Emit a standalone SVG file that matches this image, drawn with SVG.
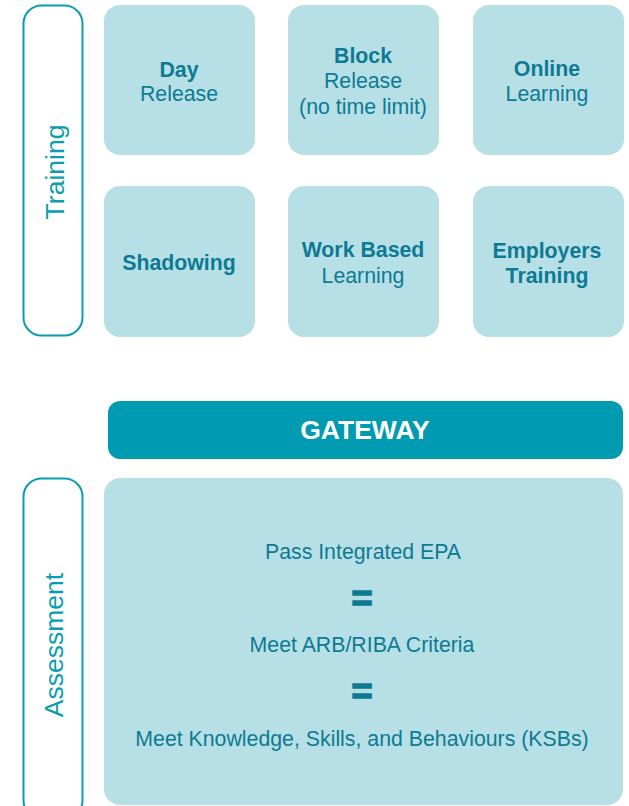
<svg xmlns="http://www.w3.org/2000/svg" width="629" height="806" viewBox="0 0 629 806">
<style>
.box{fill:#b7e0e6}
.side{fill:#ffffff;stroke:#0a9db2;stroke-width:2}
.lbl{font-family:"Liberation Sans",Arial,sans-serif;fill:#0d7a93;text-anchor:middle}
.b{font-weight:bold;font-size:21.3px}
.r{font-size:21.3px}
.sideT{font-family:"Liberation Sans",Arial,sans-serif;fill:#0a9db2;font-size:26.5px;text-anchor:middle}
.a{font-size:21.3px}
.eq{font-weight:bold;font-size:36px;stroke:#0d7a93;stroke-width:1.6px}
</style>
<rect width="629" height="806" fill="#ffffff"/>
<g id="training">
<rect class="side" x="23.5" y="5.5" width="59" height="330" rx="18"/>
<text class="sideT" transform="translate(64,172) rotate(-90)">Training</text>
</g>
<g id="day-release">
<rect class="box" x="104" y="5" width="151" height="150" rx="16"/>
<text class="lbl b" x="179" y="77">Day</text>
<text class="lbl r" x="179" y="101">Release</text>
</g>
<g id="block-release">
<rect class="box" x="288" y="5" width="151" height="150" rx="16"/>
<text class="lbl b" x="363" y="63">Block</text>
<text class="lbl r" x="363" y="88">Release</text>
<text class="lbl r" x="363" y="114">(no time limit)</text>
</g>
<g id="online-learning">
<rect class="box" x="473" y="5" width="151" height="150" rx="16"/>
<text class="lbl b" x="547" y="76">Online</text>
<text class="lbl r" x="547" y="101">Learning</text>
</g>
<g id="shadowing">
<rect class="box" x="104" y="186" width="151" height="151" rx="16"/>
<text class="lbl b" x="179" y="270">Shadowing</text>
</g>
<g id="work-based">
<rect class="box" x="288" y="186" width="151" height="151" rx="16"/>
<text class="lbl b" x="363" y="257">Work Based</text>
<text class="lbl r" x="363" y="283">Learning</text>
</g>
<g id="employers-training">
<rect class="box" x="473" y="186" width="151" height="151" rx="16"/>
<text class="lbl b" x="547" y="258">Employers</text>
<text class="lbl b" x="547" y="283">Training</text>
</g>
<g id="gateway">
<rect x="108" y="401" width="515" height="58" rx="12" fill="#009bb1"/>
<text x="365" y="439" font-family="Liberation Sans,Arial,sans-serif" font-weight="bold" font-size="26.5" fill="#ffffff" text-anchor="middle">GATEWAY</text>
</g>
<g id="assessment">
<rect class="side" x="23.5" y="478.5" width="59" height="340" rx="18"/>
<text class="sideT" transform="translate(63,645) rotate(-90)">Assessment</text>
</g>
<g id="assessment-criteria">
<rect class="box" x="104" y="478" width="519" height="327" rx="16"/>
<text class="lbl a" x="363" y="559">Pass Integrated EPA</text>
<text class="lbl eq" x="362" y="611">=</text>
<text class="lbl a" x="362" y="652">Meet ARB/RIBA Criteria</text>
<text class="lbl eq" x="362" y="704">=</text>
<text class="lbl a" x="362" y="746">Meet Knowledge, Skills, and Behaviours (KSBs)</text>
</g>
<g id="connectors"></g>
</svg>
